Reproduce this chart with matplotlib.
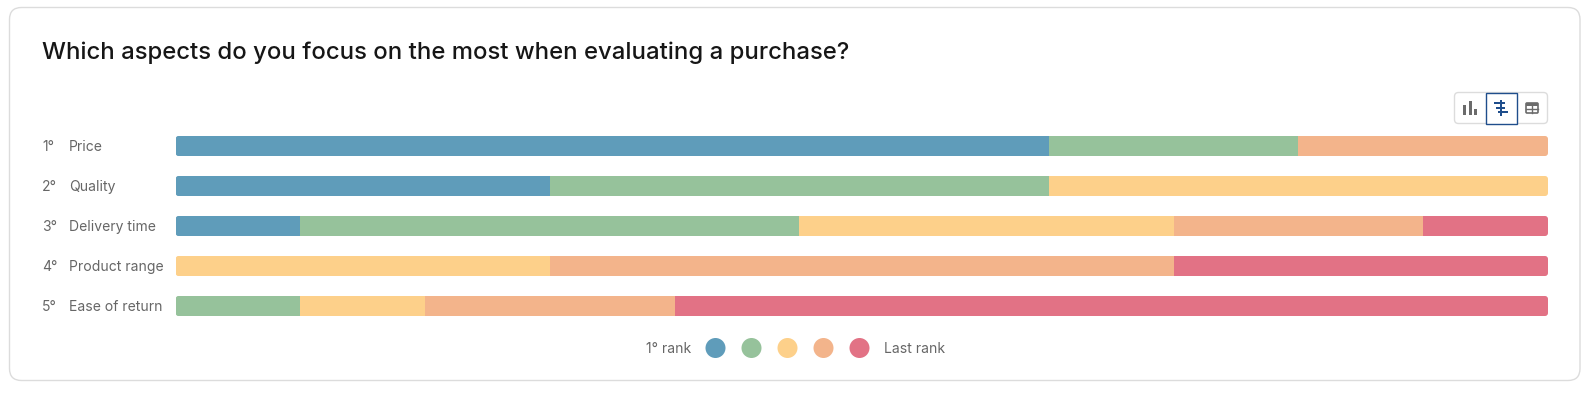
import matplotlib
matplotlib.use('Agg')
import matplotlib.pyplot as plt
import numpy as np
from matplotlib.patches import FancyBboxPatch, Circle, Rectangle

plt.rcParams['font.family']=['Inter','DejaVu Sans']

title='Which aspects do you focus on the most when evaluating a purchase?'
places=['1°','2°','3°','4°','5°']
aspects=['Price','Quality','Delivery time','Product range','Ease of return']
# number of answers per rank, one list per rank (1st to last)
rank1=[7,3,1,0,0]
rank2=[2,4,4,0,1]
rank3=[0,4,3,3,1]
rank4=[2,0,2,5,2]
rank5=[0,0,1,3,7]
ranks=[rank1,rank2,rank3,rank4,rank5]
colors=['#5f9cba','#96c29b','#fdd08a','#f3b48b','#e27285']
legend_first='1° rank'
legend_last='Last rank'
textcol='#666666'
fs=10.05

W,H=1592,393
fig=plt.figure(figsize=(W/100,H/100),dpi=100,facecolor='white')

# background axes in pixels, for card, text and icons
bg=fig.add_axes([0,0,1,1])
bg.set_xlim(0,W)
bg.set_ylim(H,0)
bg.axis('off')
bg.add_patch(FancyBboxPatch((9.5,7.5),1570.5,373,boxstyle='round,pad=0,rounding_size=12',
                            fc='white',ec='#dcdcdc',lw=1))
bg.text(42.5,53,title,fontsize=17.2,color='#161616',va='center',ha='left',fontweight='medium')

# bars
left_px,right_px=175.5,1548
top_px,bot_px=126,326
ax=fig.add_axes([left_px/W,1-bot_px/H,(right_px-left_px)/W,(bot_px-top_px)/H])
ax.set_xlim(0,11)
ax.set_ylim(4.5,-0.5)
ax.axis('off')
ax.patch.set_alpha(0)
y=np.arange(len(aspects))
height=0.5
lefts=np.zeros(len(aspects))
for vals,c in zip(ranks,colors):
    bars=ax.barh(y,vals,left=lefts,height=height,color=c,lw=0)
    for b,row in zip(bars,y):
        # rounded ends of the whole row
        clip=FancyBboxPatch((left_px,top_px+40*row+10),right_px-left_px,20,
                            boxstyle='round,pad=0,rounding_size=3',
                            transform=bg.transData,fc='none',ec='none')
        b.set_clip_path(clip)
    lefts=lefts+np.array(vals)

for i,(p,a) in enumerate(zip(places,aspects)):
    ypx=top_px+40*i+21
    bg.text(42,ypx,p,fontsize=fs,color=textcol,va='center',ha='left')
    bg.text(69,ypx,a,fontsize=fs,color=textcol,va='center',ha='left')

# legend
bg.text(691.5,349,legend_first,fontsize=fs,color=textcol,va='center',ha='right')
for i,c in enumerate(colors):
    bg.add_patch(Circle((715.5+36*i,348),10,fc=c,ec='none'))
bg.text(883.5,349,legend_last,fontsize=fs,color=textcol,va='center',ha='left')

# view switch buttons top right
bg.add_patch(FancyBboxPatch((1454.5,92.5),93,31,boxstyle='round,pad=0,rounding_size=4',
                            fc='white',ec='#dcdcdc',lw=1))
bg.add_patch(Rectangle((1485.5,92.5),31,31,fc='white',ec='#1f4e8c',lw=1))
icon='#6b6b6b'
for x0,y0,w,h in [(1463,105,3,10),(1468.5,101,3,14),(1474,109,3,6)]:
    bg.add_patch(Rectangle((x0,y0),w,h,fc=icon,ec='none'))
blue='#1f4e8c'
bg.add_patch(Rectangle((1500,100),1.6,16,fc=blue,ec='none'))
for x0,y0,w,h in [(1494,102,6,2),(1502,102,3,2),(1496,107,4,2),(1502,107,3,2),(1498,111,2,2),(1502,111,6,2)]:
    bg.add_patch(Rectangle((x0,y0),w,h,fc=blue,ec='none'))
bg.add_patch(FancyBboxPatch((1526,103),12,10,boxstyle='round,pad=0,rounding_size=1',fc='none',ec=icon,lw=1.2))
bg.add_patch(Rectangle((1526,103),12,2.5,fc=icon,ec='none'))
bg.plot([1526,1538],[108.5,108.5],color=icon,lw=1)
bg.plot([1532,1532],[105,113],color=icon,lw=1)

plt.savefig('out.png',dpi=100)
